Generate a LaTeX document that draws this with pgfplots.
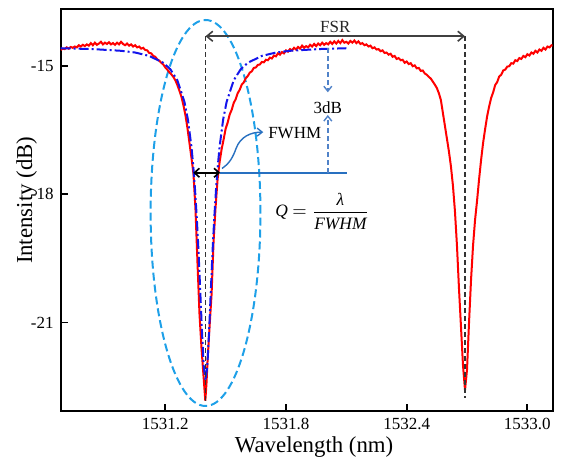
\documentclass[border=0pt]{standalone}
\usepackage{fontspec}
\setmainfont{Liberation Serif}
\usepackage{pgfplots}
\pgfplotsset{compat=1.18}
\usetikzlibrary{arrows.meta}

\definecolor{ellblue}{RGB}{30,160,232}
\definecolor{annblue}{RGB}{40,112,192}
\definecolor{dashblue}{RGB}{80,130,200}
\definecolor{fitblue}{RGB}{20,20,235}

\begin{document}
\begin{tikzpicture}
\begin{axis}[
    name=ax,
    scale only axis,
    width=246pt, height=200.7pt,
    xmin=1530.68, xmax=1533.126,
    ymin=-23.06, ymax=-13.68,
    axis line style={line width=0.9pt},
    tick align=inside,
    major tick length=3.5pt,
    every tick/.style={line width=0.9pt, black},
    xtick pos=lower, ytick pos=left,
    xtick={1531.2,1531.8,1532.4,1533.0},
    ytick={-15,-18,-21},
    /pgf/number format/assume math mode=true,
    xticklabel style={/pgf/number format/.cd, fixed, fixed zerofill, precision=1, set thousands separator={}},
    tick label style={font=\fontsize{8.5}{10}\selectfont},
    xlabel={Wavelength (nm)},
    ylabel={Intensity (dB)},
    every axis x label/.style={at={(axis description cs:0.515,-0.09)}, anchor=center,
        font=\fontsize{11.4}{13}\selectfont},
    every axis y label/.style={at={(axis description cs:-0.069,0.524)}, anchor=center, rotate=90,
        font=\fontsize{11.4}{13}\selectfont},
]

% highlight ellipse around the first resonance
\draw[ellblue, line width=1pt, dash pattern=on 4pt off 2pt]
    (axis cs:1531.40,-18.44) ellipse [x radius=0.273, y radius=4.51];

% measured spectrum
\addplot[red, line width=1pt] coordinates {
(1530.68,-14.63) (1530.69,-14.60) (1530.70,-14.61) (1530.71,-14.57) (1530.72,-14.60)
(1530.73,-14.56) (1530.74,-14.58) (1530.75,-14.55) (1530.76,-14.57) (1530.77,-14.52)
(1530.78,-14.55) (1530.79,-14.51) (1530.80,-14.54) (1530.81,-14.50) (1530.82,-14.53)
(1530.83,-14.47) (1530.84,-14.52) (1530.85,-14.46) (1530.86,-14.51) (1530.87,-14.48)
(1530.88,-14.44) (1530.89,-14.50) (1530.90,-14.46) (1530.91,-14.49) (1530.92,-14.45)
(1530.93,-14.50) (1530.94,-14.47) (1530.95,-14.51) (1530.96,-14.46) (1530.97,-14.50)
(1530.98,-14.44) (1530.99,-14.49) (1531.00,-14.52) (1531.01,-14.48) (1531.02,-14.53)
(1531.03,-14.50) (1531.04,-14.55) (1531.05,-14.52) (1531.06,-14.57) (1531.07,-14.55)
(1531.08,-14.60) (1531.09,-14.58) (1531.10,-14.63) (1531.11,-14.64) (1531.12,-14.70)
(1531.13,-14.71) (1531.14,-14.77) (1531.15,-14.79) (1531.16,-14.85) (1531.17,-14.88)
(1531.18,-14.93) (1531.19,-14.97) (1531.20,-15.04) (1531.21,-15.09) (1531.22,-15.15)
(1531.23,-15.20) (1531.24,-15.26) (1531.25,-15.34) (1531.26,-15.45) (1531.27,-15.58)
(1531.28,-15.72) (1531.29,-15.92) (1531.30,-16.15) (1531.31,-16.45) (1531.32,-16.80)
(1531.33,-17.15) (1531.34,-17.52) (1531.35,-18.35) (1531.36,-19.60) (1531.37,-20.80)
(1531.38,-21.60) (1531.39,-22.25) (1531.399,-22.83) (1531.405,-22.40) (1531.41,-21.90)
(1531.42,-21.10) (1531.43,-20.35) (1531.44,-19.10) (1531.45,-18.30) (1531.46,-17.65)
(1531.47,-17.25) (1531.48,-16.95) (1531.49,-16.72) (1531.50,-16.47) (1531.51,-16.33)
(1531.52,-16.14) (1531.53,-16.03) (1531.54,-15.87) (1531.55,-15.78) (1531.56,-15.64)
(1531.57,-15.56) (1531.58,-15.44) (1531.59,-15.39) (1531.60,-15.29) (1531.61,-15.24)
(1531.62,-15.16) (1531.63,-15.13) (1531.64,-15.05) (1531.65,-15.04) (1531.66,-14.98)
(1531.67,-14.97) (1531.68,-14.91) (1531.69,-14.92) (1531.70,-14.86) (1531.71,-14.87)
(1531.72,-14.81) (1531.73,-14.83) (1531.74,-14.76) (1531.75,-14.78) (1531.76,-14.71)
(1531.77,-14.74) (1531.78,-14.68) (1531.79,-14.71) (1531.80,-14.64) (1531.81,-14.67)
(1531.82,-14.61) (1531.83,-14.64) (1531.84,-14.58) (1531.85,-14.62) (1531.86,-14.56)
(1531.87,-14.60) (1531.88,-14.53) (1531.89,-14.58) (1531.90,-14.54) (1531.91,-14.57)
(1531.92,-14.51) (1531.93,-14.55) (1531.94,-14.49) (1531.95,-14.54) (1531.96,-14.48)
(1531.97,-14.52) (1531.98,-14.46) (1531.99,-14.51) (1532.00,-14.47) (1532.01,-14.50)
(1532.02,-14.44) (1532.03,-14.49) (1532.04,-14.43) (1532.05,-14.48) (1532.06,-14.42)
(1532.07,-14.47) (1532.08,-14.40) (1532.09,-14.46) (1532.10,-14.44) (1532.11,-14.48)
(1532.12,-14.42) (1532.13,-14.46) (1532.14,-14.41) (1532.15,-14.47) (1532.16,-14.43)
(1532.17,-14.49) (1532.18,-14.47) (1532.19,-14.52) (1532.20,-14.50) (1532.21,-14.55)
(1532.22,-14.53) (1532.23,-14.59) (1532.24,-14.57) (1532.25,-14.62) (1532.26,-14.61)
(1532.27,-14.66) (1532.28,-14.64) (1532.29,-14.70) (1532.30,-14.69) (1532.31,-14.74)
(1532.32,-14.72) (1532.33,-14.79) (1532.34,-14.77) (1532.35,-14.84) (1532.36,-14.82)
(1532.37,-14.87) (1532.38,-14.86) (1532.39,-14.93) (1532.40,-14.90) (1532.41,-14.96)
(1532.42,-14.94) (1532.43,-15.01) (1532.44,-14.99) (1532.45,-15.06) (1532.46,-15.05)
(1532.47,-15.12) (1532.48,-15.11) (1532.49,-15.18) (1532.50,-15.21) (1532.51,-15.26)
(1532.52,-15.30) (1532.53,-15.37) (1532.54,-15.44) (1532.55,-15.52) (1532.56,-15.64)
(1532.57,-15.80) (1532.58,-16.10) (1532.59,-16.40) (1532.60,-16.70) (1532.61,-17.00)
(1532.62,-17.35) (1532.63,-17.80) (1532.64,-18.40) (1532.65,-19.20) (1532.66,-20.20)
(1532.67,-21.10) (1532.68,-22.00) (1532.69,-22.58) (1532.70,-22.10) (1532.71,-21.00)
(1532.72,-20.00) (1532.73,-19.20) (1532.74,-18.60) (1532.75,-18.15) (1532.76,-17.65)
(1532.77,-17.20) (1532.78,-16.80) (1532.79,-16.48) (1532.80,-16.18) (1532.81,-15.95)
(1532.82,-15.75) (1532.83,-15.62) (1532.84,-15.45) (1532.85,-15.38) (1532.86,-15.25)
(1532.87,-15.21) (1532.88,-15.11) (1532.89,-15.09) (1532.90,-15.02) (1532.91,-15.01)
(1532.92,-14.94) (1532.93,-14.95) (1532.94,-14.87) (1532.95,-14.89) (1532.96,-14.82)
(1532.97,-14.84) (1532.98,-14.77) (1532.99,-14.80) (1533.00,-14.73) (1533.01,-14.76)
(1533.02,-14.69) (1533.03,-14.72) (1533.04,-14.65) (1533.05,-14.69) (1533.06,-14.62)
(1533.07,-14.65) (1533.08,-14.58) (1533.09,-14.62) (1533.10,-14.55) (1533.11,-14.57)
(1533.12,-14.52) (1533.126,-14.53)
};

% Lorentzian fit of the first dip
\addplot[fitblue, line width=1pt, dash pattern=on 5pt off 1.5pt on 1pt off 1.5pt] coordinates {
(1530.68,-14.59) (1530.84,-14.61) (1530.98,-14.65) (1531.05,-14.69) (1531.12,-14.77)
(1531.19,-14.93) (1531.225,-15.08) (1531.26,-15.34) (1531.295,-15.84) (1531.3125,-16.26)
(1531.33,-16.89) (1531.33875,-17.33) (1531.3475,-17.87) (1531.35625,-18.53) (1531.365,-19.32)
(1531.37375,-20.26) (1531.3825,-21.23) (1531.39125,-22.03) (1531.40,-22.35)
(1531.40875,-22.03) (1531.4175,-21.23) (1531.42625,-20.26) (1531.435,-19.32)
(1531.44375,-18.53) (1531.4525,-17.87) (1531.46125,-17.33) (1531.47,-16.89)
(1531.4875,-16.26) (1531.505,-15.84) (1531.54,-15.34) (1531.575,-15.08) (1531.61,-14.93)
(1531.68,-14.77) (1531.75,-14.69) (1531.82,-14.65) (1531.96,-14.61) (1532.10,-14.59)
};

% resonance markers and FSR
\draw[black!80, line width=0.75pt, dash pattern=on 2.5pt off 1.5pt]
    (axis cs:1531.40,-14.31) -- (axis cs:1531.40,-22.90);
\draw[black!80, line width=0.75pt, dash pattern=on 2.5pt off 1.5pt]
    (axis cs:1532.69,-14.31) -- (axis cs:1532.69,-22.76);
\draw[black!75, line width=0.8pt, {Straight Barb[length=3pt,width=5pt]}-{Straight Barb[length=3pt,width=5pt]}]
    (axis cs:1531.40,-14.31) -- (axis cs:1532.69,-14.31);
\node[anchor=south, inner sep=1.5pt, font=\fontsize{8.5}{9}\selectfont, text=black!85]
    at (axis cs:1532.045,-14.31) {FSR};

% FWHM and 3 dB
\draw[annblue, line width=0.8pt] (axis cs:1531.473,-17.5) -- (axis cs:1532.104,-17.5);
\draw[black, line width=0.8pt, {Straight Barb[length=2.5pt,width=4.5pt]}-{Straight Barb[length=2.5pt,width=4.5pt]}]
    (axis cs:1531.339,-17.5) -- (axis cs:1531.473,-17.5);
\draw[dashblue, line width=0.7pt, dash pattern=on 2.5pt off 1.5pt, -{Straight Barb[length=2.5pt,width=4pt]}]
    (axis cs:1532.008,-14.59) -- (axis cs:1532.008,-15.62);
\draw[dashblue, line width=0.7pt, dash pattern=on 2.5pt off 1.5pt, -{Straight Barb[length=2.5pt,width=4pt]}]
    (axis cs:1532.008,-17.5) -- (axis cs:1532.008,-16.15);
\node[font=\fontsize{8.5}{9}\selectfont, inner sep=0pt, fill=white]
    at (axis cs:1532.008,-15.97) {3dB};
\draw[annblue, line width=0.7pt, -{Straight Barb[length=2.5pt,width=4pt]}]
    (axis cs:1531.482,-17.40) to[out=35,in=-110] (axis cs:1531.552,-16.93)
    to[out=70,in=180] (axis cs:1531.687,-16.55);
\node[anchor=west, inner sep=1pt, font=\fontsize{8.5}{9}\selectfont]
    at (axis cs:1531.70,-16.57) {FWHM};
\node[font=\fontsize{8.7}{10}\selectfont]
    at (axis cs:1531.98,-18.40) {\textit{Q} $=\displaystyle\frac{\textit{λ}}{\textit{FWHM}}$};
\end{axis}
\pgfresetboundingbox
\path[use as bounding box] ([shift={(-30.35pt,-25.15pt)}]ax.south west)
    rectangle ([shift={(4.15pt,4.65pt)}]ax.north east);
\end{tikzpicture}
\end{document}
